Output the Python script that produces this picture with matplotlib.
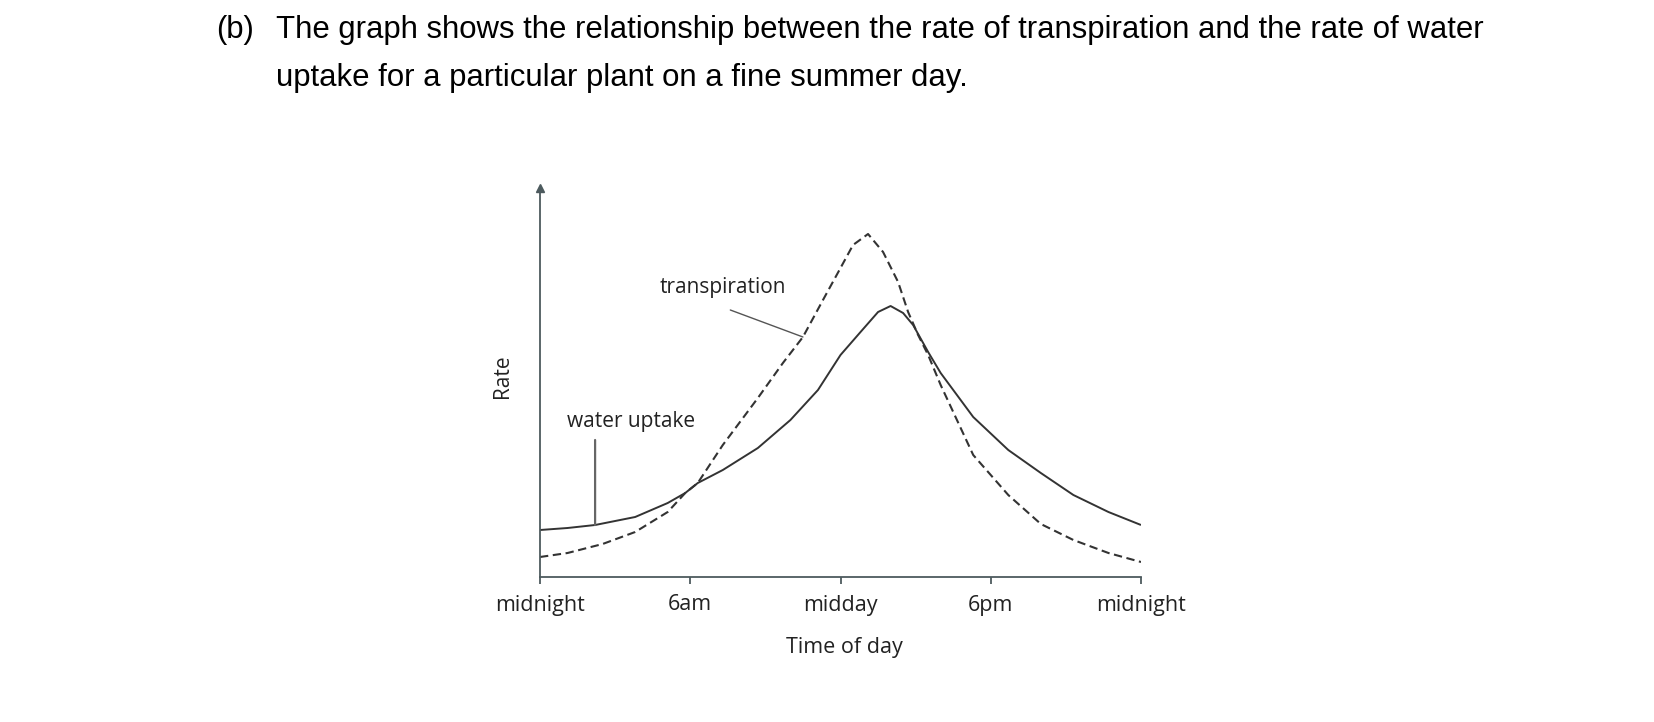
import matplotlib
matplotlib.use("Agg")
import matplotlib.pyplot as plt
from matplotlib.transforms import ScaledTranslation

W, H = 1654, 722

# hours after midnight, rate (arbitrary units)
uptake_hours = [0, 1.1, 2.2, 3.8, 5.1, 5.8, 6.3, 7.3, 8.7, 10.0, 11.1, 12.0, 12.8,
                13.5, 14.0, 14.5, 14.9, 15.5, 16.0, 17.3, 18.7, 20.0, 21.3, 22.7, 24]
uptake_rate = [4.7, 4.9, 5.2, 6.0, 7.4, 8.4, 9.4, 10.7, 12.9, 15.7, 18.7, 22.2, 24.5,
               26.5, 27.1, 26.4, 25.2, 22.5, 20.4, 16.0, 12.7, 10.4, 8.2, 6.5, 5.2]

transp_hours = [0, 1.1, 2.5, 3.8, 5.1, 5.8, 6.3, 7.3, 8.7, 9.7, 10.5, 11.3, 12.0, 12.5,
                13.1, 13.7, 14.3, 14.7, 15.1, 15.5, 16.0, 17.3, 18.7, 20.0, 21.3, 22.7, 24]
transp_rate = [2.0, 2.4, 3.3, 4.5, 6.5, 8.4, 9.4, 13.2, 17.9, 21.4, 24.0, 27.7, 30.9, 33.2,
               34.3, 32.5, 29.5, 26.5, 24.2, 22.2, 19.2, 12.2, 8.2, 5.3, 3.7, 2.4, 1.5]

tick_hours = [0, 6, 12, 18, 24]
tick_labels = ["midnight", "6am", "midday", "6pm", "midnight"]

question = ["(b)",
            "The graph shows the relationship between the rate of transpiration and the rate of water",
            "uptake for a particular plant on a fine summer day."]

line_col = "#333333"
axis_col = "#4d5a5e"
text_col = "#222222"
graph_font = ["Open Sans", "DejaVu Sans"]
head_font = ["Liberation Sans", "DejaVu Sans"]

fig = plt.figure(figsize=(W / 100, H / 100), dpi=100)

# axes placed in pixel space: x 540..1141, y 577 (zero) .. 188 (arrow tip)
x0, x1, y0, y1 = 540, 1141, 577, 188
ax = fig.add_axes([x0 / W, 1 - y0 / H, (x1 - x0) / W, (y0 - y1) / H])
ax.set_xlim(0, 24)
ax.set_ylim(0, (y0 - y1) / 10)
ax.patch.set_alpha(0)

ax.plot(uptake_hours, uptake_rate, color=line_col, lw=1.4,
        solid_joinstyle="round", solid_capstyle="butt")
ax.plot(transp_hours, transp_rate, color=line_col, lw=1.5, dashes=(4, 2.2),
        dash_joinstyle="round")

for s in ["top", "right"]:
    ax.spines[s].set_visible(False)
for s in ["left", "bottom"]:
    ax.spines[s].set_color(axis_col)
    ax.spines[s].set_linewidth(1.3)

ax.set_yticks([])
ax.set_xticks(tick_hours)
ax.set_xticklabels([])
ax.set_xticks([6, 18], minor=True)
ax.tick_params(axis="x", which="major", direction="out", length=5, width=1.3, color=axis_col)
ax.tick_params(axis="x", which="minor", direction="in", length=9.5, width=1.3, color=axis_col)

# arrow head at the top of the rate axis
ax.plot(0, 1, marker="^", markersize=6, color=axis_col,
        transform=ax.get_xaxis_transform(), clip_on=False)

# tick labels, about 28 px under the axis
lab_tr = ax.get_xaxis_transform() + ScaledTranslation(0, -0.28, fig.dpi_scale_trans)
for h, lab in zip(tick_hours, tick_labels):
    ax.text(h, 0, lab, transform=lab_tr, ha="center", va="center",
            fontsize=15.5, family=graph_font, color=text_col)

fig.text(844 / W, 1 - 647 / H, "Time of day", ha="center", va="center",
         fontsize=15.5, family=graph_font, color=text_col)
fig.text(502 / W, 1 - 376 / H, "Rate", ha="center", va="center", rotation=90,
         fontsize=15, family=graph_font, color=text_col)

# curve labels with leader lines
fig.text(723 / W, 1 - 288 / H, "transpiration", ha="center", va="center",
         fontsize=15, family=graph_font, color=text_col)
fig.text(631 / W, 1 - 422 / H, "water uptake", ha="center", va="center",
         fontsize=15, family=graph_font, color=text_col)
ax.annotate("", xy=(transp_hours[10], transp_rate[10]), xytext=(7.6, 26.7),
            arrowprops=dict(arrowstyle="-", color="#555555", lw=1.0, shrinkA=0, shrinkB=0))
ax.annotate("", xy=(uptake_hours[2], uptake_rate[2]), xytext=(uptake_hours[2], 13.7),
            arrowprops=dict(arrowstyle="-", color="#666666", lw=1.6, shrinkA=0, shrinkB=0))

# question text
fig.text(216 / W, 1 - 30 / H, question[0], ha="left", va="center",
         fontsize=22.4, family=head_font, color="black")
fig.text(276 / W, 1 - 30 / H, question[1], ha="left", va="center",
         fontsize=22.4, family=head_font, color="black")
fig.text(276 / W, 1 - 78 / H, question[2], ha="left", va="center",
         fontsize=22.4, family=head_font, color="black")

fig.savefig("out.png", dpi=100, facecolor="white")
